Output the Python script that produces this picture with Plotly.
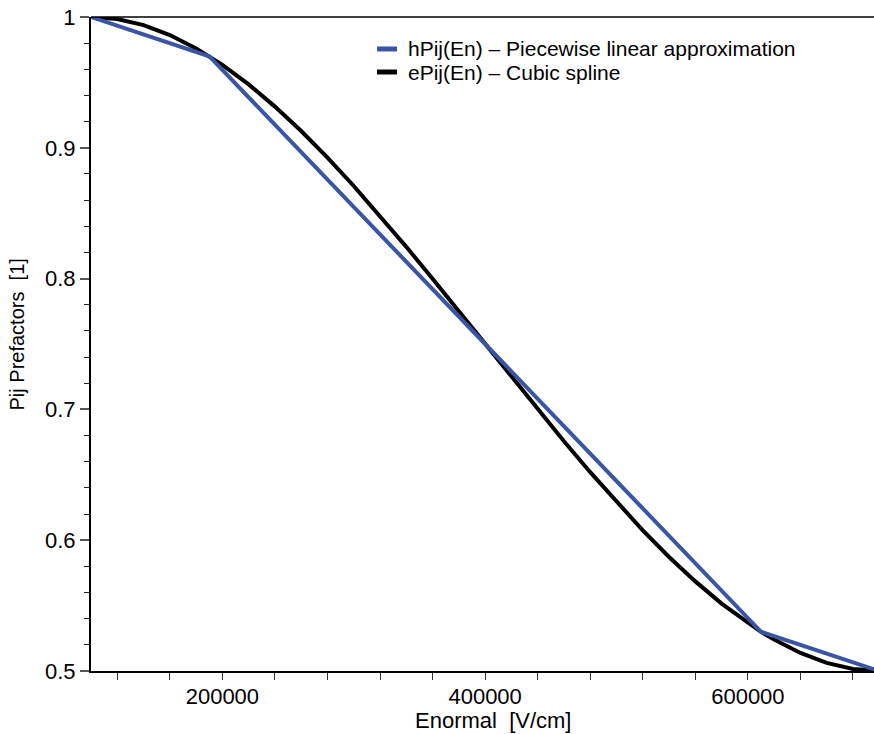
import plotly.graph_objects as go

# Piecewise linear approximation (knots)
lin_x = [100000, 190000, 400000, 610000, 700000]
lin_y = [1.0, 0.97, 0.75, 0.53, 0.5]

# Cubic spline samples
spl_x = [100000, 120000, 140000, 160000, 180000, 190000, 200000, 220000, 240000,
         260000, 280000, 300000, 320000, 340000, 360000, 380000, 400000, 420000,
         440000, 460000, 480000, 500000, 520000, 540000, 560000, 580000, 600000,
         610000, 620000, 640000, 660000, 680000, 700000]
spl_y = [1.0000, 0.9984, 0.9938, 0.9862, 0.9760, 0.9700, 0.9634, 0.9485, 0.9315,
         0.9128, 0.8925, 0.8708, 0.8480, 0.8243, 0.7999, 0.7751, 0.7500, 0.7249,
         0.7001, 0.6757, 0.6520, 0.6292, 0.6075, 0.5872, 0.5685, 0.5515, 0.5366,
         0.5300, 0.5240, 0.5138, 0.5062, 0.5016, 0.5000]

x_tickvals = [200000, 400000, 600000]
x_ticktext = ["200000", "400000", "600000"]

series_names = ["hPij(En) \u2013 Piecewise linear approximation",
                "ePij(En) \u2013 Cubic spline"]

FONT = "Liberation Sans, Arial, Helvetica, sans-serif"
BLUE = "#3B55A5"
series_colors = [BLUE, "black"]

fig = go.Figure()
fig.add_trace(go.Scatter(
    x=spl_x, y=spl_y, mode="lines", line=dict(color="black", width=4),
    name=series_names[1], showlegend=False))
fig.add_trace(go.Scatter(
    x=lin_x, y=lin_y, mode="lines", line=dict(color=BLUE, width=4),
    name=series_names[0], showlegend=False))

# Key in the upper right of the plot area: short swatch + label per series
key_rows_y = [0.9511, 0.9159]
shapes = [dict(type="line", xref="paper", yref="paper", x0=0, x1=1, y0=1, y1=1,
               line=dict(color="black", width=1.5), layer="above")]
annotations = []
for name, color, yk in zip(series_names, series_colors, key_rows_y):
    shapes.append(dict(type="line", xref="paper", yref="paper",
                       x0=0.3653, x1=0.3908, y0=yk, y1=yk,
                       line=dict(color=color, width=5)))
    annotations.append(dict(text=name, xref="paper", yref="paper",
                            x=0.4023, y=yk, xanchor="left", yanchor="middle",
                            showarrow=False, font=dict(size=21, family=FONT)))

annotations += [
    dict(text="Enormal\u00a0\u00a0[V/cm]", xref="paper", yref="paper",
         x=0.5128, y=-0.075, xanchor="center", yanchor="middle",
         showarrow=False, font=dict(size=22, family=FONT)),
    dict(text="Pij Prefactors\u00a0\u00a0[1]", xref="paper", yref="paper",
         x=-0.0939, y=0.5153, xanchor="center", yanchor="middle",
         textangle=-90, showarrow=False, font=dict(size=20, family=FONT)),
]

fig.update_layout(
    width=874, height=734,
    margin=dict(l=91, r=0, t=17, b=63),
    paper_bgcolor="white", plot_bgcolor="white",
    font=dict(family=FONT, color="black"),
    showlegend=False,
    xaxis=dict(
        range=[100000, 696000], showgrid=False, zeroline=False,
        showline=True, linecolor="black", linewidth=2,
        ticks="outside", ticklen=7, tickwidth=1, tickcolor="#333",
        tickvals=x_tickvals, ticktext=x_ticktext,
        tickfont=dict(size=22, family=FONT), ticklabelstandoff=-2,
        minor=dict(ticks="outside", dtick=40000, tick0=0, ticklen=7,
                   tickwidth=1, tickcolor="#333"),
    ),
    yaxis=dict(
        range=[0.5, 1.0], showgrid=False, zeroline=False,
        showline=True, linecolor="black", linewidth=2,
        ticks="outside", ticklen=9, tickwidth=2, tickcolor="#555",
        dtick=0.1, tick0=0.5,
        tickfont=dict(size=22, family=FONT),
        minor=dict(ticks="outside", dtick=0.02, tick0=0.5, ticklen=5,
                   tickwidth=1, tickcolor="#222"),
    ),
    shapes=shapes,
    annotations=annotations,
)

fig.write_html("out.html")
